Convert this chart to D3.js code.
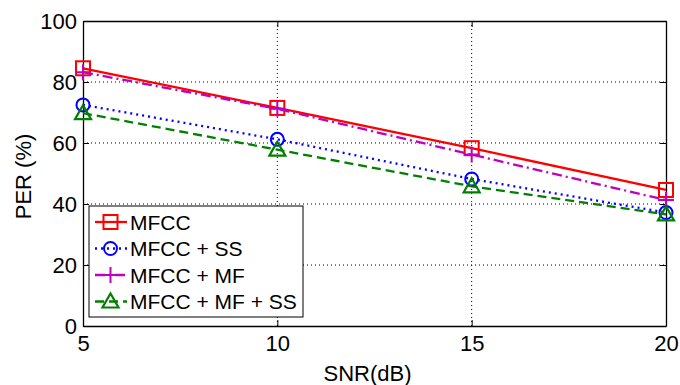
<!DOCTYPE html>
<html>
<head>
<meta charset="utf-8">
<script src="https://cdn.jsdelivr.net/npm/d3@7"></script>
<style>
  body { margin: 0; background: #fff; }
  text { font-family: "Liberation Sans", Arial, sans-serif; }
</style>
</head>
<body>
<div class="chart"></div>
<script>
// data
var snr = [5, 10, 15, 20];
var mfcc = [84.5, 71.5, 58.3, 44.6];
var mfccSS = [72.5, 61.2, 48.2, 37.2];
var mfccMF = [83.2, 71.2, 56.2, 41.3];
var mfccMFSS = [69.8, 57.8, 45.8, 36.6];
var xTicks = [5, 10, 15, 20];
var yTicks = [0, 20, 40, 60, 80, 100];

var seriesNames = ["MFCC", "MFCC + SS", "MFCC + MF", "MFCC + MF + SS"];
var seriesValues = [mfcc, mfccSS, mfccMF, mfccMFSS];
var colors = ["#ff0000", "#0000ff", "#bf00bf", "#008000"];
var dashes = [null, "2,4", "10,4,2,4", "9,5"];
var markers = ["square", "circle", "plus", "triangle"];

var svgWidth = 680;
var svgHeight = 385;

var margin = { top: 21, right: 14, bottom: 59, left: 83 };
var width = svgWidth - margin.left - margin.right;
var height = svgHeight - margin.top - margin.bottom;

var svg = d3.select(".chart")
    .append("svg")
    .attr("width", svgWidth)
    .attr("height", svgHeight);

var chartGroup = svg.append("g")
    .attr("transform", `translate(${margin.left}, ${margin.top})`);

var x = d3.scaleLinear().domain([5, 20]).range([0, width]);
var y = d3.scaleLinear().domain([0, 100]).range([height, 0]);

// grid
chartGroup.append("g").selectAll("line")
    .data(xTicks.slice(1, -1))
    .enter().append("line")
    .attr("x1", d => x(d)).attr("x2", d => x(d))
    .attr("y1", 0).attr("y2", height)
    .attr("stroke", "#000").attr("stroke-width", 1)
    .attr("stroke-dasharray", "1,3");

chartGroup.append("g").selectAll("line")
    .data(yTicks.slice(1, -1))
    .enter().append("line")
    .attr("x1", 0).attr("x2", width)
    .attr("y1", d => y(d)).attr("y2", d => y(d))
    .attr("stroke", "#000").attr("stroke-width", 1)
    .attr("stroke-dasharray", "1,3");

// axes, matlab style ticks pointing inward
var bottomAxis = d3.axisBottom(x).tickValues(xTicks).tickSizeInner(-6).tickSizeOuter(0).tickPadding(9);
var leftAxis = d3.axisLeft(y).tickValues(yTicks).tickSizeInner(-6).tickSizeOuter(0).tickPadding(6);
var topAxis = d3.axisTop(x).tickValues(xTicks).tickSizeInner(-6).tickSizeOuter(0).tickFormat("");
var rightAxis = d3.axisRight(y).tickValues(yTicks).tickSizeInner(-6).tickSizeOuter(0).tickFormat("");

function styleAxis(g) {
    g.selectAll("path").attr("stroke", "#000").attr("stroke-width", 1.3);
    g.selectAll("line").attr("stroke", "#000").attr("stroke-width", 1);
    g.selectAll("text").attr("fill", "#000").style("font-size", "22px")
        .style("font-family", "'Liberation Sans', Arial, sans-serif");
}

chartGroup.append("g").attr("transform", `translate(0, ${height})`).call(bottomAxis).call(styleAxis);
chartGroup.append("g").call(leftAxis).call(styleAxis);
chartGroup.append("g").call(topAxis).call(styleAxis);
chartGroup.append("g").attr("transform", `translate(${width}, 0)`).call(rightAxis).call(styleAxis);

// lines
var line = d3.line()
    .x((d, i) => x(snr[i]))
    .y(d => y(d));

function drawMarker(g, type, cx, cy, color) {
    if (type === "square") {
        g.append("rect").attr("x", cx - 7).attr("y", cy - 7).attr("width", 14).attr("height", 14)
            .attr("fill", "none").attr("stroke", color).attr("stroke-width", 2);
    } else if (type === "circle") {
        g.append("circle").attr("cx", cx).attr("cy", cy).attr("r", 6.5)
            .attr("fill", "none").attr("stroke", color).attr("stroke-width", 2);
    } else if (type === "plus") {
        g.append("path").attr("d", `M${cx - 8},${cy}H${cx + 8}M${cx},${cy - 8}V${cy + 8}`)
            .attr("fill", "none").attr("stroke", color).attr("stroke-width", 2);
    } else {
        g.append("path").attr("d", `M${cx},${cy - 8}L${cx + 8},${cy + 6}L${cx - 8},${cy + 6}Z`)
            .attr("fill", "none").attr("stroke", color).attr("stroke-width", 2.2);
    }
}

seriesValues.forEach(function(vals, s) {
    chartGroup.append("path")
        .datum(vals)
        .attr("d", line)
        .attr("fill", "none")
        .attr("stroke", colors[s])
        .attr("stroke-width", 2.3)
        .attr("stroke-dasharray", dashes[s]);
    var mg = chartGroup.append("g");
    vals.forEach(function(v, i) {
        drawMarker(mg, markers[s], x(snr[i]), y(v), colors[s]);
    });
});

// legend
var legend = svg.append("g").attr("transform", "translate(89, 206)");
legend.append("rect")
    .attr("x", 0).attr("y", 0).attr("width", 214).attr("height", 111)
    .attr("fill", "#fff").attr("stroke", "#000").attr("stroke-width", 1);

seriesNames.forEach(function(name, s) {
    var ly = 16 + s * 26.5;
    legend.append("line")
        .attr("x1", 6).attr("x2", 38).attr("y1", ly).attr("y2", ly)
        .attr("stroke", colors[s]).attr("stroke-width", 2.3)
        .attr("stroke-dasharray", dashes[s]);
    drawMarker(legend, markers[s], 21.5, ly, colors[s]);
    legend.append("text")
        .attr("x", 41).attr("y", ly + 7.5)
        .style("font-size", "21px")
        .attr("fill", "#000")
        .text(name);
});

// axis labels
svg.append("text")
    .attr("transform", `translate(31, ${margin.top + height / 2 + 3}) rotate(-90)`)
    .attr("text-anchor", "middle")
    .style("font-size", "22px")
    .text("PER (%)");

svg.append("text")
    .attr("x", margin.left + width / 2 - 7)
    .attr("y", 381)
    .attr("text-anchor", "middle")
    .style("font-size", "22px")
    .text("SNR(dB)");
</script>
</body>
</html>
